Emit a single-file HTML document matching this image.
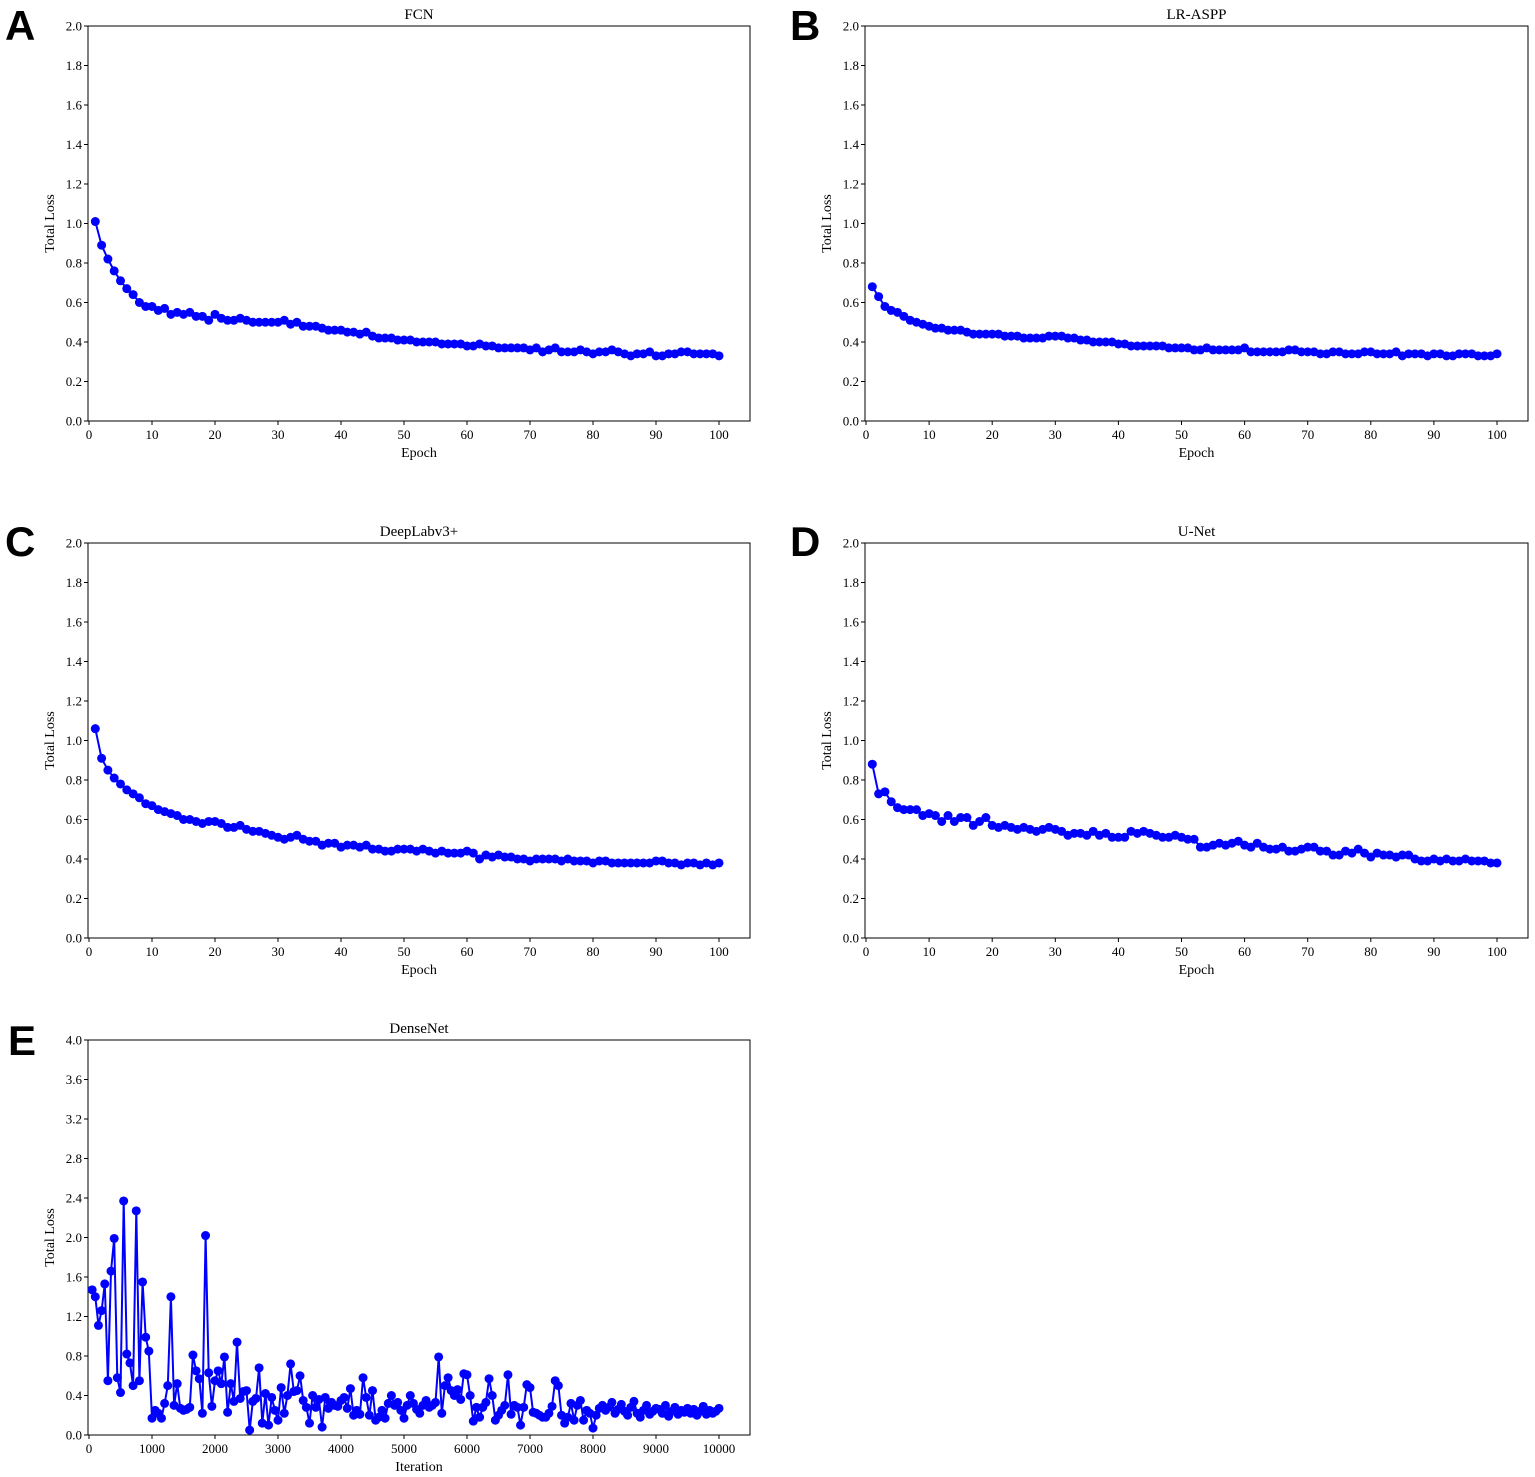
<!DOCTYPE html>
<html><head><meta charset="utf-8"><style>
body{margin:0;background:#fff;}
svg{display:block;}
text{font-family:"Liberation Serif",serif;}
.lbl{font-family:"Liberation Sans",sans-serif;font-weight:bold;font-size:42px;}
</style></head><body>
<svg id="fig" width="1535" height="1477"></svg>
<script>
const epochs = Array.from({length:100},(_,i)=>i+1);
const fcnLoss=[1.01,0.89,0.82,0.76,0.71,0.67,0.64,0.60,0.58,0.58,0.56,0.57,0.54,0.55,0.54,0.55,0.53,0.53,0.51,0.54,0.52,0.51,0.51,0.52,0.51,0.50,0.50,0.50,0.50,0.50,0.51,0.49,0.50,0.48,0.48,0.48,0.47,0.46,0.46,0.46,0.45,0.45,0.44,0.45,0.43,0.42,0.42,0.42,0.41,0.41,0.41,0.40,0.40,0.40,0.40,0.39,0.39,0.39,0.39,0.38,0.38,0.39,0.38,0.38,0.37,0.37,0.37,0.37,0.37,0.36,0.37,0.35,0.36,0.37,0.35,0.35,0.35,0.36,0.35,0.34,0.35,0.35,0.36,0.35,0.34,0.33,0.34,0.34,0.35,0.33,0.33,0.34,0.34,0.35,0.35,0.34,0.34,0.34,0.34,0.33];
const lrasppLoss=[0.68,0.63,0.58,0.56,0.55,0.53,0.51,0.50,0.49,0.48,0.47,0.47,0.46,0.46,0.46,0.45,0.44,0.44,0.44,0.44,0.44,0.43,0.43,0.43,0.42,0.42,0.42,0.42,0.43,0.43,0.43,0.42,0.42,0.41,0.41,0.40,0.40,0.40,0.40,0.39,0.39,0.38,0.38,0.38,0.38,0.38,0.38,0.37,0.37,0.37,0.37,0.36,0.36,0.37,0.36,0.36,0.36,0.36,0.36,0.37,0.35,0.35,0.35,0.35,0.35,0.35,0.36,0.36,0.35,0.35,0.35,0.34,0.34,0.35,0.35,0.34,0.34,0.34,0.35,0.35,0.34,0.34,0.34,0.35,0.33,0.34,0.34,0.34,0.33,0.34,0.34,0.33,0.33,0.34,0.34,0.34,0.33,0.33,0.33,0.34];
const deeplabLoss=[1.06,0.91,0.85,0.81,0.78,0.75,0.73,0.71,0.68,0.67,0.65,0.64,0.63,0.62,0.60,0.60,0.59,0.58,0.59,0.59,0.58,0.56,0.56,0.57,0.55,0.54,0.54,0.53,0.52,0.51,0.50,0.51,0.52,0.50,0.49,0.49,0.47,0.48,0.48,0.46,0.47,0.47,0.46,0.47,0.45,0.45,0.44,0.44,0.45,0.45,0.45,0.44,0.45,0.44,0.43,0.44,0.43,0.43,0.43,0.44,0.43,0.40,0.42,0.41,0.42,0.41,0.41,0.40,0.40,0.39,0.40,0.40,0.40,0.40,0.39,0.40,0.39,0.39,0.39,0.38,0.39,0.39,0.38,0.38,0.38,0.38,0.38,0.38,0.38,0.39,0.39,0.38,0.38,0.37,0.38,0.38,0.37,0.38,0.37,0.38];
const unetLoss=[0.88,0.73,0.74,0.69,0.66,0.65,0.65,0.65,0.62,0.63,0.62,0.59,0.62,0.59,0.61,0.61,0.57,0.59,0.61,0.57,0.56,0.57,0.56,0.55,0.56,0.55,0.54,0.55,0.56,0.55,0.54,0.52,0.53,0.53,0.52,0.54,0.52,0.53,0.51,0.51,0.51,0.54,0.53,0.54,0.53,0.52,0.51,0.51,0.52,0.51,0.50,0.50,0.46,0.46,0.47,0.48,0.47,0.48,0.49,0.47,0.46,0.48,0.46,0.45,0.45,0.46,0.44,0.44,0.45,0.46,0.46,0.44,0.44,0.42,0.42,0.44,0.43,0.45,0.43,0.41,0.43,0.42,0.42,0.41,0.42,0.42,0.40,0.39,0.39,0.40,0.39,0.40,0.39,0.39,0.40,0.39,0.39,0.39,0.38,0.38];
const iterations = Array.from({length:200},(_,i)=>(i+1)*50);
const densenetLoss=[1.47,1.40,1.11,1.26,1.53,0.55,1.66,1.99,0.58,0.43,2.37,0.82,0.73,0.50,2.27,0.55,1.55,0.99,0.85,0.17,
0.25,0.22,0.17,0.32,0.50,1.40,0.30,0.52,0.27,0.25,0.26,0.28,0.81,0.65,0.57,0.22,2.02,0.63,0.29,0.55,
0.65,0.52,0.79,0.23,0.52,0.34,0.94,0.37,0.44,0.45,0.05,0.34,0.37,0.68,0.12,0.42,0.10,0.38,0.25,0.15,
0.48,0.22,0.40,0.72,0.44,0.45,0.60,0.35,0.28,0.12,0.40,0.28,0.36,0.08,0.38,0.27,0.33,0.30,0.29,0.35,
0.38,0.27,0.47,0.20,0.25,0.21,0.58,0.38,0.20,0.45,0.15,0.18,0.25,0.17,0.32,0.40,0.30,0.33,0.25,0.17,
0.30,0.40,0.32,0.26,0.22,0.30,0.35,0.28,0.30,0.33,0.79,0.22,0.50,0.58,0.45,0.40,0.46,0.36,0.62,0.61,
0.40,0.14,0.28,0.18,0.28,0.33,0.57,0.40,0.15,0.20,0.25,0.30,0.61,0.21,0.30,0.28,0.10,0.28,0.51,0.48,
0.23,0.22,0.20,0.18,0.18,0.22,0.29,0.55,0.50,0.20,0.12,0.18,0.32,0.15,0.30,0.35,0.15,0.25,0.22,0.07,
0.20,0.27,0.30,0.25,0.28,0.33,0.22,0.26,0.31,0.24,0.20,0.28,0.34,0.22,0.18,0.25,0.30,0.21,0.24,0.27,
0.26,0.22,0.30,0.19,0.24,0.28,0.21,0.25,0.23,0.27,0.22,0.26,0.20,0.24,0.29,0.21,0.25,0.22,0.24,0.27];
const epochTicks=[0,10,20,30,40,50,60,70,80,90,100];
const lossTicks=[0,0.2,0.4,0.6,0.8,1.0,1.2,1.4,1.6,1.8,2.0];
const iterTicks=[0,1000,2000,3000,4000,5000,6000,7000,8000,9000,10000];
const denseTicks=[0,0.4,0.8,1.2,1.6,2.0,2.4,2.8,3.2,3.6,4.0];

const NS="http://www.w3.org/2000/svg";
const svg=document.getElementById('fig');
function mk(tag,attrs,parent){const e=document.createElementNS(NS,tag);for(const k in attrs)e.setAttribute(k,attrs[k]);(parent||svg).appendChild(e);return e;}

function panel(o){
  const g=mk('g',{});
  
  
  const L=o.x0,R=o.x1,T=o.y0,B=o.y1;
  const sx=v=>o.px0+(v-o.xmin)/(o.xmax-o.xmin)*(o.px1-o.px0);
  const sy=v=>B-(v-o.ymin)/(o.ymax-o.ymin)*(B-T);
  const box=mk('rect',{x:L,y:T,width:R-L,height:B-T,fill:'none',stroke:'#000','stroke-width':1},g);
  
  
  o.xt.forEach(t=>{const x=sx(t);mk('line',{x1:x,y1:B,x2:x,y2:B+4,stroke:'#000'},g);
    const tx=mk('text',{x:x,y:B+18,'font-size':13,'text-anchor':'middle'},g);tx.textContent=t;
    
    });
  o.yt.forEach(t=>{const y=sy(t);mk('line',{x1:L-4,y1:y,x2:L,y2:y,stroke:'#000'},g);
    const tx=mk('text',{x:L-6,y:y+4.5,'font-size':13,'text-anchor':'end'},g);tx.textContent=t.toFixed(1);
    
    });
  const ti=mk('text',{x:(L+R)/2,y:T-7,'font-size':15,'text-anchor':'middle'},g);ti.textContent=o.title;
  
  
  const xl=mk('text',{x:(L+R)/2,y:B+36,'font-size':14,'text-anchor':'middle'},g);xl.textContent=o.xlabel;
  
  
  const cy=(T+B)/2;
  const yl=mk('text',{x:L-34,y:cy,'font-size':14,'text-anchor':'middle',transform:`rotate(-90 ${L-34} ${cy})`},g);yl.textContent='Total Loss';
  
  
  const pl=mk('text',{x:o.lx,y:o.ly,class:'lbl'},g);pl.textContent=o.id;
  
  
  const pts=o.xs.map((x,i)=>sx(x).toFixed(1)+','+sy(o.ys[i]).toFixed(1)).join(' ');
  const line=mk('polyline',{points:pts,fill:'none',stroke:'#0000ff','stroke-width':2},g);
  
  
  o.xs.forEach((x,i)=>{const c=mk('circle',{cx:sx(x),cy:sy(o.ys[i]),r:4.5,fill:'#0000ff'},g);
    
    });
}
const common={xmin:0,xmax:100,ymin:0,ymax:2,xt:epochTicks,yt:lossTicks,xlabel:'Epoch',xs:epochs};
panel({...common,id:'A',title:'FCN',x0:88,x1:750,y0:26,y1:421,px0:89,px1:719,ys:fcnLoss,lx:5,ly:40});
panel({...common,id:'B',title:'LR-ASPP',x0:865,x1:1528,y0:26,y1:421,px0:866,px1:1497,ys:lrasppLoss,lx:790,ly:40});
panel({...common,id:'C',title:'DeepLabv3+',x0:88,x1:750,y0:543,y1:938,px0:89,px1:719,ys:deeplabLoss,lx:5,ly:556});
panel({...common,id:'D',title:'U-Net',x0:865,x1:1528,y0:543,y1:938,px0:866,px1:1497,ys:unetLoss,lx:790,ly:556});
panel({id:'E',title:'DenseNet',x0:88,x1:750,y0:1040,y1:1435,px0:89,px1:719,xmin:0,xmax:10000,ymin:0,ymax:4,xt:iterTicks,yt:denseTicks,xlabel:'Iteration',xs:iterations,ys:densenetLoss,lx:8,ly:1055});
</script>
</body></html>
